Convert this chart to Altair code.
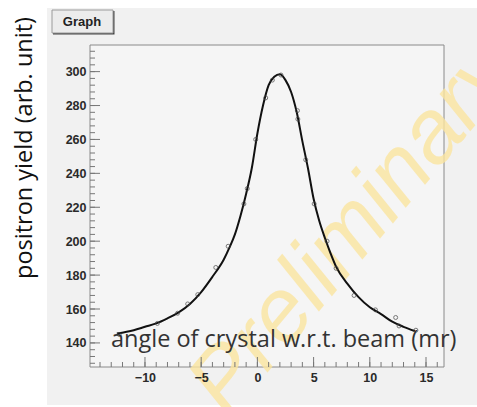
import altair as alt
import pandas as pd

# fitted curve
curve_x = [-12.5, -11, -10, -9, -8, -7, -6, -5, -4, -3, -2.5, -2, -1.5, -1, -0.5,
           0, 0.5, 1, 1.5, 2, 2.5, 3, 3.5, 4, 4.5, 5, 5.5, 6, 6.5, 7, 8, 9, 10,
           11, 12, 13, 14]
curve_y = [145.5, 147.5, 149.5, 151.5, 154.5, 158, 163, 170, 179, 189, 196, 204,
           215, 228, 243, 263.5, 280, 292, 297, 298.5, 295, 288, 276, 259, 243,
           225, 212, 202, 193, 185, 175, 167, 161, 157, 152.5, 149.5, 147]

# measured points
pts_x = [-12.3, -8.9, -7.1, -6.2, -5.3, -3.7, -2.6, -1.2, -0.9, -0.15, 0.74,
         1.33, 2.1, 3.56, 3.6, 4.3, 5.05, 6.2, 7.0, 8.6, 10.5, 12.3, 12.6, 14.1]
pts_y = [145, 151.5, 157.5, 163, 168.5, 184.5, 197, 222, 231, 260, 284.5,
         295, 298, 277, 272, 248, 222, 200, 184, 168, 159.5, 155, 150, 147.5]

x_major = [-10, -5, 0, 5, 10, 15]
x_minor = list(range(-14, 17))
y_major = [140, 160, 180, 200, 220, 240, 260, 280, 300]
y_minor = list(range(128, 316, 4))

X_DOM = [-14.89, 16.6]
Y_DOM = [125.8, 315.7]
W, H = 354, 322

xs = alt.Scale(domain=X_DOM, nice=False, zero=False)
ys = alt.Scale(domain=Y_DOM, nice=False, zero=False)

axis_common = dict(ticks=False, domain=False, grid=False, labelFont="Liberation Sans",
                   labelFontWeight="bold", labelFontSize=12.5, labelColor="#2a2a2a",
                   title=None, labelPadding=4, zindex=1)
XA = alt.Axis(values=x_major, **axis_common)
YA = alt.Axis(values=y_major, **axis_common)

one = pd.DataFrame({"t": ["a"]})

canvas = alt.Chart(one).mark_rect(fill="#f1f1f1").encode(
    x=alt.value(-43), x2=alt.value(387), y=alt.value(-37), y2=alt.value(360))
plotbg = alt.Chart(one).mark_rect(fill="#f5f5f5", stroke="#8a8a8a", strokeWidth=1).encode(
    x=alt.value(0), x2=alt.value(W), y=alt.value(0), y2=alt.value(H))

graph_shadow = alt.Chart(one).mark_rect(fill="#444444").encode(
    x=alt.value(-37), x2=alt.value(24.5), y=alt.value(-34), y2=alt.value(-10.5))
graph_box = alt.Chart(one).mark_rect(fill="#ececec", stroke="#9a9a9a", strokeWidth=1).encode(
    x=alt.value(-38), x2=alt.value(23), y=alt.value(-35), y2=alt.value(-12))
graph_txt = alt.Chart(pd.DataFrame({"t": ["Graph"]})).mark_text(
    font="Liberation Sans", fontWeight="bold", fontSize=13, color="#222222",
    align="center", baseline="middle").encode(
    x=alt.value(-8), y=alt.value(-23), text="t:N")

watermark = alt.Chart(pd.DataFrame({"t": ["Preliminary"]})).mark_text(
    font="Liberation Sans", fontStyle="italic", fontSize=90, color="#fbe5a0",
    opacity=0.8, angle=310, align="center", baseline="middle").encode(
    x=alt.value(262), y=alt.value(185), text="t:N")

ytitle = alt.Chart(pd.DataFrame({"t": ["positron yield (arb. unit)"]})).mark_text(
    font="Open Sans", fontSize=23.5, color="#111111", angle=270,
    align="center", baseline="middle").encode(
    x=alt.value(-65), y=alt.value(103), text="t:N")

xtitle = alt.Chart(pd.DataFrame({"t": ["angle of crystal w.r.t. beam (mr)"]})).mark_text(
    font="Open Sans", fontSize=23.5, color="#333333",
    align="left", baseline="alphabetic").encode(
    x=alt.value(21), y=alt.value(302), text="t:N")

xmaj = alt.Chart(pd.DataFrame({"v": x_major})).mark_rule(color="#777777").encode(
    x=alt.X("v:Q", scale=xs, axis=XA), y=alt.value(H), y2=alt.value(H - 10))
xmin = alt.Chart(pd.DataFrame({"v": x_minor})).mark_rule(color="#777777").encode(
    x=alt.X("v:Q", scale=xs, axis=XA), y=alt.value(H), y2=alt.value(H - 5))
ymaj = alt.Chart(pd.DataFrame({"v": y_major})).mark_rule(color="#777777").encode(
    y=alt.Y("v:Q", scale=ys, axis=YA), x=alt.value(0), x2=alt.value(10))
ymin = alt.Chart(pd.DataFrame({"v": y_minor})).mark_rule(color="#777777").encode(
    y=alt.Y("v:Q", scale=ys, axis=YA), x=alt.value(0), x2=alt.value(5))

curve = alt.Chart(pd.DataFrame({"x": curve_x, "y": curve_y})).mark_line(
    color="#111111", strokeWidth=2, interpolate="monotone").encode(
    x=alt.X("x:Q", scale=xs, axis=XA),
    y=alt.Y("y:Q", scale=ys, axis=YA))

points = alt.Chart(pd.DataFrame({"x": pts_x, "y": pts_y})).mark_point(
    shape="circle", filled=False, size=16, stroke="#444444", strokeWidth=1).encode(
    x=alt.X("x:Q", scale=xs, axis=XA), y=alt.Y("y:Q", scale=ys, axis=YA))

chart = alt.layer(
    canvas, plotbg, graph_shadow, graph_box, graph_txt, watermark, ytitle,
    curve, points, xmaj, xmin, ymaj, ymin, xtitle
).properties(
    width=W, height=H,
    autosize=alt.AutoSizeParams(type="none"),
    padding={"left": 90, "top": 45, "right": 33, "bottom": 40},
    background="white",
).configure_view(stroke=None)

chart.save("out.html", embed_options={"renderer": "svg", "actions": False})
